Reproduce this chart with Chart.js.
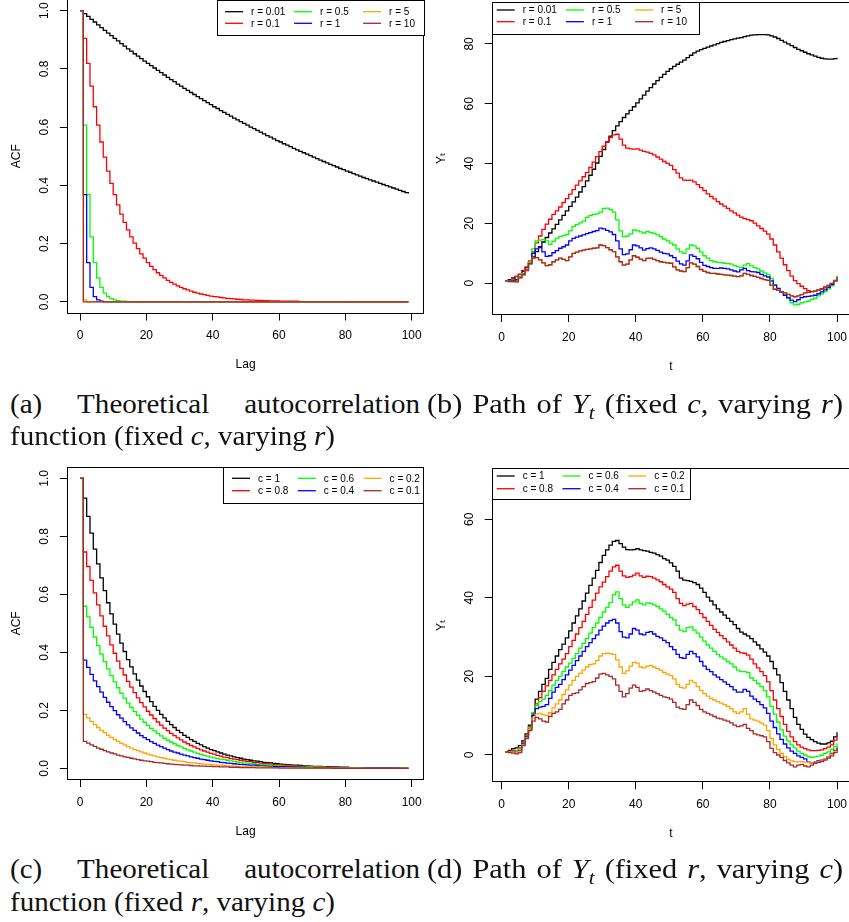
<!DOCTYPE html>
<html>
<head>
<meta charset="utf-8">
<script src="https://cdn.jsdelivr.net/npm/chart.js@4.4.1/dist/chart.umd.min.js"></script>
<style>
html, body { margin: 0; padding: 0; background: #fff; }
body { width: 849px; height: 922px; overflow: hidden; position: relative; }
canvas { position: absolute; }
.cap { position: absolute; font-family: 'Liberation Serif', 'Times New Roman', serif; font-size: 28px; line-height: 32px; white-space: nowrap; color: #111; transform-origin: 0 50%; }
.cap sub { font-size: 0.7em; vertical-align: -0.3em; line-height: 0; }
.just { display: flex; justify-content: space-between; }
</style>
</head>
<body>
<canvas id="chartA"></canvas>
<canvas id="chartB"></canvas>
<canvas id="chartC"></canvas>
<canvas id="chartD"></canvas>

<div class="cap just" style="left:10px;top:388px"><span>(a)</span><span>Theoretical</span><span>autocorrelation</span></div>
<div class="cap" id="capA2" style="left:10px;top:420px">function (fixed <i>c</i>, varying <i>r</i>)</div>
<div class="cap wide" style="left:427px;top:388px">(b) Path of <i>Y</i><sub><i>t</i></sub> (fixed <i>c</i>, varying <i>r</i>)</div>
<div class="cap just" style="left:10px;top:853px"><span>(c)</span><span>Theoretical</span><span>autocorrelation</span></div>
<div class="cap" style="left:10px;top:886px">function (fixed <i>r</i>, varying <i>c</i>)</div>
<div class="cap wide" style="left:427px;top:853px">(d) Path of <i>Y</i><sub><i>t</i></sub> (fixed <i>r</i>, varying <i>c</i>)</div>

<script>
// ---- axes / labels ----
const lags = [0,1,2,3,4,5,6,7,8,9,10,11,12,13,14,15,16,17,18,19,20,21,22,23,24,25,26,27,28,29,30,31,32,33,34,35,36,37,38,39,40,41,42,43,44,45,46,47,48,49,50,51,52,53,54,55,56,57,58,59,60,61,62,63,64,65,66,67,68,69,70,71,72,73,74,75,76,77,78,79,80,81,82,83,84,85,86,87,88,89,90,91,92,93,94,95,96,97,98,99];
const times = [1,2,3,4,5,6,7,8,9,10,11,12,13,14,15,16,17,18,19,20,21,22,23,24,25,26,27,28,29,30,31,32,33,34,35,36,37,38,39,40,41,42,43,44,45,46,47,48,49,50,51,52,53,54,55,56,57,58,59,60,61,62,63,64,65,66,67,68,69,70,71,72,73,74,75,76,77,78,79,80,81,82,83,84,85,86,87,88,89,90,91,92,93,94,95,96,97,98,99,100];

const xTicks = [0, 20, 40, 60, 80, 100];
const xTickLabels = ['0', '20', '40', '60', '80', '100'];
const acfTicks = [0, 0.2, 0.4, 0.6, 0.8, 1.0];
const acfTickLabels = ['0.0', '0.2', '0.4', '0.6', '0.8', '1.0'];
const pathBTicks = [0, 20, 40, 60, 80];
const pathBTickLabels = ['0', '20', '40', '60', '80'];
const pathDTicks = [0, 20, 40, 60];
const pathDTickLabels = ['0', '20', '40', '60'];

const rLabels = ['r = 0.01', 'r = 0.1', 'r = 0.5', 'r = 1', 'r = 5', 'r = 10'];
const cLabels = ['c = 1', 'c = 0.8', 'c = 0.6', 'c = 0.4', 'c = 0.2', 'c = 0.1'];
const seriesColors = ['#000000', '#FF0000', '#00FF00', '#0000FF', '#FFA500', '#A52A2A'];

// ---- (a) ACF, fixed c, varying r ----
const acfR001 = [
1.000,.990,.980,.970,.961,.951,.942,.932,.923,.914,
.905,.896,.887,.878,.869,.861,.852,.844,.835,.827,
.819,.811,.803,.795,.787,.779,.771,.763,.756,.748,
.741,.733,.726,.719,.712,.705,.698,.691,.684,.677,
.670,.664,.657,.651,.644,.638,.631,.625,.619,.613,
.607,.600,.595,.589,.583,.577,.571,.566,.560,.554,
.549,.543,.538,.533,.527,.522,.517,.512,.507,.502,
.497,.492,.487,.482,.477,.472,.468,.463,.458,.454,
.449,.445,.440,.436,.432,.427,.423,.419,.415,.411,
.407,.403,.399,.395,.391,.387,.383,.379,.375,.372];
const acfR01 = [
1.000,.905,.819,.741,.670,.607,.549,.497,.449,.407,
.368,.333,.301,.273,.247,.223,.202,.183,.165,.150,
.135,.122,.111,.100,.091,.082,.074,.067,.061,.055,
.050,.045,.041,.037,.033,.030,.027,.025,.022,.020,
.018,.017,.015,.014,.012,.011,.010,.009,.008,.007,
.007,.006,.006,.005,.005,.004,.004,.003,.003,.003,
.002,.002,.002,.002,.002,.002,.001,.001,.001,.001,
.001,.001,.001,.001,.001,.001,.001,.001,0,0,
0,0,0,0,0,0,0,0,0,0,
0,0,0,0,0,0,0,0,0,0];
const acfR05 = [
1.000,.607,.368,.223,.135,.082,.050,.030,.018,.011,
.007,.004,.002,.002,.001,.001,0,0,0,0,
0,0,0,0,0,0,0,0,0,0,
0,0,0,0,0,0,0,0,0,0,
0,0,0,0,0,0,0,0,0,0,
0,0,0,0,0,0,0,0,0,0,
0,0,0,0,0,0,0,0,0,0,
0,0,0,0,0,0,0,0,0,0,
0,0,0,0,0,0,0,0,0,0,
0,0,0,0,0,0,0,0,0,0];
const acfR1 = [
1.000,.368,.135,.050,.018,.007,.002,.001,0,0,
0,0,0,0,0,0,0,0,0,0,
0,0,0,0,0,0,0,0,0,0,
0,0,0,0,0,0,0,0,0,0,
0,0,0,0,0,0,0,0,0,0,
0,0,0,0,0,0,0,0,0,0,
0,0,0,0,0,0,0,0,0,0,
0,0,0,0,0,0,0,0,0,0,
0,0,0,0,0,0,0,0,0,0,
0,0,0,0,0,0,0,0,0,0];
const acfR5 = [
1.000,.007,0,0,0,0,0,0,0,0,
0,0,0,0,0,0,0,0,0,0,
0,0,0,0,0,0,0,0,0,0,
0,0,0,0,0,0,0,0,0,0,
0,0,0,0,0,0,0,0,0,0,
0,0,0,0,0,0,0,0,0,0,
0,0,0,0,0,0,0,0,0,0,
0,0,0,0,0,0,0,0,0,0,
0,0,0,0,0,0,0,0,0,0,
0,0,0,0,0,0,0,0,0,0];
const acfR10 = [
1.000,0,0,0,0,0,0,0,0,0,
0,0,0,0,0,0,0,0,0,0,
0,0,0,0,0,0,0,0,0,0,
0,0,0,0,0,0,0,0,0,0,
0,0,0,0,0,0,0,0,0,0,
0,0,0,0,0,0,0,0,0,0,
0,0,0,0,0,0,0,0,0,0,
0,0,0,0,0,0,0,0,0,0,
0,0,0,0,0,0,0,0,0,0,
0,0,0,0,0,0,0,0,0,0];

// ---- (b) paths, fixed c, varying r ----
const pathR001 = [
0.8,1.2,1.8,2.3,3.0,4.0,5.2,6.8,8.8,10.6,
12.2,13.8,15.3,16.8,18.2,19.7,21.2,22.7,24.2,25.7,
27.2,28.8,30.5,32.3,34.2,36.1,38.1,40.2,42.4,44.7,
47.2,49.2,51.0,52.6,54.0,55.4,56.6,57.8,59.0,60.3,
61.6,62.9,64.2,65.4,66.6,67.7,68.8,69.8,70.8,71.7,
72.5,73.2,73.9,74.6,75.4,76.2,77.0,77.6,78.1,78.5,
78.9,79.3,79.7,80.1,80.5,80.8,81.1,81.4,81.7,81.9,
82.1,82.4,82.7,82.9,83.0,83.1,83.1,83.1,83.0,82.7,
82.3,81.8,81.2,80.6,80.0,79.4,78.8,78.2,77.7,77.2,
76.7,76.3,75.9,75.5,75.2,75.0,74.9,74.9,75.1,75.4];
const pathR01 = [
0.8,1.0,1.6,2.2,3.0,4.3,5.5,7.5,10.5,13.5,
15.8,18.0,19.8,21.4,23.0,24.2,25.5,27.0,28.3,29.8,
31.3,32.8,34.2,35.6,37.0,38.7,40.5,42.3,44.0,45.8,
47.3,48.7,49.6,49.8,48.2,46.2,45.2,44.9,44.8,44.9,
44.5,44.1,43.8,43.4,42.9,42.2,41.5,40.7,40.1,39.4,
38.0,36.8,35.2,34.5,34.4,34.5,33.9,33.0,32.0,31.0,
29.9,29.0,28.2,27.3,26.5,25.8,25.0,24.2,23.5,22.8,
22.1,21.6,21.3,20.9,20.1,19.2,18.3,17.4,16.4,14.8,
12.8,10.5,8.4,6.2,4.2,2.4,0.9,-0.1,-1.0,-1.8,
-2.5,-2.8,-2.6,-2.3,-2.0,-1.5,-0.9,-0.3,0.7,1.7];
const pathR05 = [
0.8,0.9,1.2,1.0,2.2,3.3,4.5,7.0,11.5,14.2,
14.4,14.6,14.2,13.0,14.0,15.0,15.6,15.9,16.3,17.5,
19.0,19.6,20.2,20.8,22.0,22.6,23.0,23.2,23.8,25.0,
25.1,24.6,23.8,21.2,17.5,15.6,15.8,16.5,17.8,17.6,
17.2,16.8,17.3,17.0,16.7,16.2,15.6,14.8,14.2,13.4,
12.8,11.5,10.5,10.0,11.5,12.8,12.5,11.7,10.5,9.2,
8.4,7.6,7.2,7.0,6.9,6.7,6.6,6.4,5.9,5.5,
5.2,6.1,6.6,5.8,5.2,4.8,4.1,3.5,3.0,1.6,
-0.5,-1.8,-2.8,-3.9,-5.0,-6.5,-7.2,-7.0,-6.5,-6.2,
-6.0,-5.4,-5.0,-4.2,-3.5,-2.8,-1.9,-0.9,0.8,2.6];
const pathR1 = [
0.8,0.8,1.0,1.2,2.0,3.0,4.2,6.5,10.0,11.5,
11.9,10.5,9.0,9.2,10.2,10.9,11.7,12.2,12.8,14.2,
15.0,15.4,15.8,16.2,16.6,16.9,17.3,17.6,18.4,18.2,
17.7,17.2,16.3,14.2,11.5,9.6,9.8,11.2,12.8,12.5,
11.8,11.1,11.6,11.8,11.5,11.0,10.4,10.0,9.8,9.2,
8.6,7.4,6.5,6.1,7.5,9.5,9.0,8.2,7.0,6.0,
5.6,5.2,5.0,5.0,5.1,5.0,4.8,4.5,4.1,3.8,
4.5,5.0,4.2,3.9,3.8,3.6,3.0,2.5,2.1,0.8,
-0.6,-1.7,-3.0,-4.0,-4.8,-5.6,-6.1,-5.5,-4.8,-4.5,
-4.4,-4.2,-4.0,-3.5,-2.9,-2.2,-1.4,-0.4,1.0,2.2];
const pathR5 = [
0.8,0.6,0.6,0.5,1.8,2.8,4.5,6.6,8.4,8.6,
7.8,6.8,5.9,6.2,7.2,7.8,8.4,8.0,7.6,8.8,
10.0,10.4,10.8,11.1,11.3,11.5,11.7,11.8,12.8,12.6,
11.9,11.2,10.6,8.8,7.2,6.1,6.4,7.8,9.2,8.7,
8.1,7.6,8.3,8.4,8.0,7.6,7.2,7.0,6.8,6.7,
5.5,4.5,4.1,3.9,5.2,6.8,6.4,5.6,4.6,4.0,
3.6,3.3,3.3,3.1,3.0,2.8,2.7,2.6,2.4,2.2,
2.5,3.3,3.0,2.6,2.3,2.0,1.6,1.2,1.0,-0.6,
-2.0,-2.4,-2.8,-3.2,-3.7,-4.2,-4.5,-4.2,-3.8,-3.2,
-3.0,-2.8,-2.6,-2.2,-1.8,-1.2,-0.7,0.0,0.8,1.7];
const pathR10 = [
0.8,0.6,0.6,0.5,1.8,2.8,4.5,6.6,8.4,8.6,
7.8,6.8,5.9,6.2,7.2,7.8,8.4,8.0,7.6,8.8,
10.0,10.4,10.8,11.1,11.3,11.5,11.7,11.8,12.8,12.6,
11.9,11.2,10.6,8.8,7.2,6.1,6.4,7.8,9.2,8.7,
8.1,7.6,8.3,8.4,8.0,7.6,7.2,7.0,6.8,6.7,
5.5,4.5,4.1,3.9,5.2,6.8,6.4,5.6,4.6,4.0,
3.6,3.3,3.3,3.1,3.0,2.8,2.7,2.6,2.4,2.2,
2.5,3.3,3.0,2.6,2.3,2.0,1.6,1.2,1.0,-0.6,
-2.0,-2.4,-2.8,-3.2,-3.7,-4.2,-4.5,-4.2,-3.8,-3.2,
-3.0,-2.8,-2.6,-2.2,-1.8,-1.2,-0.7,0.0,0.8,1.7];

// ---- (c) ACF, fixed r, varying c ----
const acfC1 = [
1.000,.932,.869,.811,.756,.705,.657,.613,.571,.533,
.497,.463,.432,.403,.375,.350,.326,.304,.284,.265,
.247,.230,.214,.200,.186,.174,.162,.151,.141,.131,
.123,.114,.107,.099,.093,.086,.081,.075,.070,.065,
.061,.057,.053,.049,.046,.043,.040,.037,.035,.032,
.030,.028,.026,.025,.023,.021,.020,.019,.017,.016,
.015,.014,.013,.012,.011,.011,.010,.009,.009,.008,
.007,.007,.007,.006,.006,.005,.005,.005,.004,.004,
.004,.003,.003,.003,.003,.003,.002,.002,.002,.002,
.002,.002,.002,.002,.001,.001,.001,.001,.001,.001];
const acfC08 = [
1.000,.746,.696,.648,.605,.564,.526,.490,.457,.426,
.397,.370,.345,.322,.300,.280,.261,.243,.227,.212,
.197,.184,.172,.160,.149,.139,.130,.121,.113,.105,
.098,.091,.085,.079,.074,.069,.064,.060,.056,.052,
.049,.045,.042,.039,.037,.034,.032,.030,.028,.026,
.024,.023,.021,.020,.018,.017,.016,.015,.014,.013,
.012,.011,.010,.010,.009,.008,.008,.007,.007,.006,
.006,.006,.005,.005,.004,.004,.004,.004,.003,.003,
.003,.003,.003,.002,.002,.002,.002,.002,.002,.002,
.001,.001,.001,.001,.001,.001,.001,.001,.001,.001];
const acfC06 = [
1.000,.559,.522,.486,.453,.423,.394,.368,.343,.320,
.298,.278,.259,.242,.225,.210,.196,.183,.170,.159,
.148,.138,.129,.120,.112,.104,.097,.091,.085,.079,
.074,.069,.064,.060,.056,.052,.048,.045,.042,.039,
.036,.034,.032,.030,.028,.026,.024,.022,.021,.019,
.018,.017,.016,.015,.014,.013,.012,.011,.010,.010,
.009,.008,.008,.007,.007,.006,.006,.006,.005,.005,
.004,.004,.004,.004,.003,.003,.003,.003,.003,.002,
.002,.002,.002,.002,.002,.002,.001,.001,.001,.001,
.001,.001,.001,.001,.001,.001,.001,.001,.001,.001];
const acfC04 = [
1.000,.373,.348,.324,.302,.282,.263,.245,.228,.213,
.199,.185,.173,.161,.150,.140,.131,.122,.113,.106,
.099,.092,.086,.080,.075,.070,.065,.060,.056,.053,
.049,.046,.043,.040,.037,.035,.032,.030,.028,.026,
.024,.023,.021,.020,.018,.017,.016,.015,.014,.013,
.012,.011,.011,.010,.009,.009,.008,.007,.007,.006,
.006,.006,.005,.005,.005,.004,.004,.004,.003,.003,
.003,.003,.003,.002,.002,.002,.002,.002,.002,.002,
.001,.001,.001,.001,.001,.001,.001,.001,.001,.001,
.001,.001,.001,.001,.001,.001,0,0,0,0];
const acfC02 = [
1.000,.186,.174,.162,.151,.141,.131,.123,.114,.107,
.099,.093,.086,.081,.075,.070,.065,.061,.057,.053,
.049,.046,.043,.040,.037,.035,.032,.030,.028,.026,
.025,.023,.021,.020,.019,.017,.016,.015,.014,.013,
.012,.011,.011,.010,.009,.009,.008,.007,.007,.006,
.006,.006,.005,.005,.005,.004,.004,.004,.003,.003,
.003,.003,.003,.002,.002,.002,.002,.002,.002,.002,
.001,.001,.001,.001,.001,.001,.001,.001,.001,.001,
.001,.001,.001,.001,.001,0,0,0,0,0,
0,0,0,0,0,0,0,0,0,0];
const acfC01 = [
1.000,.093,.087,.081,.076,.070,.066,.061,.057,.053,
.050,.046,.043,.040,.038,.035,.033,.030,.028,.026,
.025,.023,.021,.020,.019,.017,.016,.015,.014,.013,
.012,.011,.011,.010,.009,.009,.008,.008,.007,.007,
.006,.006,.005,.005,.005,.004,.004,.004,.003,.003,
.003,.003,.003,.002,.002,.002,.002,.002,.002,.002,
.001,.001,.001,.001,.001,.001,.001,.001,.001,.001,
.001,.001,.001,.001,.001,.001,0,0,0,0,
0,0,0,0,0,0,0,0,0,0,
0,0,0,0,0,0,0,0,0,0];

// ---- (d) paths, fixed r, varying c ----
const pathC1 = [
0.8,1.2,1.6,1.8,2.4,3.6,5.4,7.6,10.4,14.2,
16.2,18.0,19.5,21.8,23.6,25.2,26.8,28.2,29.8,31.6,
33.6,35.4,37.2,39.2,41.2,43.2,45.0,47.0,49.0,50.8,
52.2,53.4,54.4,54.6,53.8,52.9,52.3,52.2,52.3,52.5,
52.2,52.0,51.9,51.6,51.4,51.0,50.6,50.0,49.6,48.9,
48.0,46.8,45.0,44.5,44.4,44.2,43.9,43.4,42.5,41.4,
40.2,39.2,38.2,37.2,36.4,35.6,34.8,34.0,33.2,32.2,
31.3,30.8,30.3,29.6,28.8,28.0,27.0,26.2,25.2,23.8,
22.0,20.4,18.4,16.2,14.0,11.8,9.6,7.8,6.5,5.3,
4.5,3.9,3.4,3.0,2.8,2.8,3.1,3.5,4.6,5.8];
const pathC08 = [
0.8,1.0,1.2,1.0,1.8,3.2,5.0,7.2,10.6,13.0,
14.6,16.2,17.6,19.0,20.4,21.8,23.2,24.4,25.8,27.6,
29.2,30.8,32.4,34.0,35.8,37.6,39.4,41.2,42.8,44.0,
45.4,46.8,47.9,48.3,46.8,45.6,45.2,45.4,45.8,46.3,
45.6,45.2,45.5,45.4,45.0,44.6,44.1,43.4,42.8,42.2,
41.4,39.8,38.6,38.0,38.4,38.6,37.8,37.0,36.0,35.0,
34.0,33.0,32.0,31.2,30.4,29.6,28.8,28.0,27.2,26.4,
26.0,25.9,25.4,24.4,23.2,22.2,21.2,20.2,18.6,16.4,
14.0,11.8,9.8,7.8,6.0,4.6,3.4,2.6,2.0,1.6,
1.3,1.1,1.1,1.2,1.3,1.6,2.0,2.6,3.8,4.5];
const pathC06 = [
0.8,0.8,1.0,0.8,1.6,3.0,4.8,7.0,10.8,12.6,
13.6,14.2,15.2,16.4,17.8,19.0,20.0,21.2,22.4,23.4,
24.6,25.8,27.2,28.4,29.6,31.0,32.4,33.6,35.0,36.4,
37.6,38.8,40.8,41.5,39.8,38.2,37.6,38.2,39.0,39.5,
38.6,38.2,38.7,38.6,38.2,37.8,37.2,36.6,35.8,35.0,
34.4,33.0,31.8,31.4,32.4,32.6,31.8,31.0,30.0,29.0,
28.0,27.2,26.4,25.6,25.0,24.4,23.8,23.2,22.4,21.6,
21.2,21.2,21.0,19.6,19.0,18.2,17.4,16.4,14.8,12.4,
10.4,8.4,6.4,4.8,3.6,2.6,1.8,1.0,0.4,0.0,
-0.4,-0.6,-0.5,-0.3,0.0,0.4,0.8,1.4,2.2,3.0];
const pathC04 = [
0.8,0.8,0.9,0.6,1.2,2.8,4.6,6.6,10.0,11.8,
12.2,12.4,12.8,14.4,16.0,17.2,18.0,19.2,20.4,21.6,
22.8,24.0,25.2,26.4,27.6,28.6,29.6,30.6,31.8,32.8,
33.6,34.2,34.5,33.6,31.4,30.0,29.8,30.8,32.2,31.8,
30.8,30.6,31.2,31.4,30.8,30.2,29.8,29.2,28.6,27.6,
26.8,25.6,24.8,24.6,25.6,26.4,25.8,25.0,23.8,22.6,
21.8,21.2,20.4,19.8,19.2,18.6,18.0,17.4,16.6,16.0,
16.0,16.7,16.2,15.0,14.2,13.6,12.8,12.0,10.6,8.6,
7.0,5.4,4.0,2.8,1.8,1.0,0.4,-0.2,-0.6,-1.0,
-1.8,-2.0,-1.8,-1.5,-1.3,-1.0,-0.4,0.4,1.2,2.0];
const pathC02 = [
0.8,0.8,0.8,0.6,1.0,2.6,4.4,6.6,9.4,10.4,
10.6,10.2,10.0,10.8,12.0,13.0,14.0,15.4,16.6,17.8,
19.0,20.0,20.8,21.6,22.4,23.0,23.2,24.0,25.2,25.8,
25.9,25.8,25.6,24.2,22.4,20.8,21.4,22.6,23.6,23.4,
22.4,22.2,22.6,22.8,22.4,22.0,21.6,21.0,20.6,20.2,
19.4,18.0,17.2,17.0,18.0,19.0,18.4,17.4,16.4,15.6,
15.0,14.4,14.0,13.6,13.2,12.8,12.4,11.8,11.0,10.6,
11.0,11.8,10.4,9.2,8.9,8.6,8.1,7.6,6.2,4.2,
2.6,1.4,0.4,-0.4,-1.1,-1.5,-1.7,-1.7,-1.7,-1.8,
-1.9,-2.0,-1.9,-1.7,-1.5,-1.0,-0.5,0.2,1.0,1.8];
const pathC01 = [
0.8,0.6,0.5,0.3,0.6,2.4,4.2,6.2,8.6,9.6,
9.2,8.6,8.4,9.8,10.6,11.0,11.6,13.0,14.0,15.2,
15.6,15.8,16.6,17.4,18.2,18.4,18.7,19.6,20.6,20.8,
20.4,20.0,19.4,17.8,16.2,14.8,15.6,17.0,17.8,17.2,
16.2,16.4,16.8,16.4,16.0,15.6,15.2,14.8,14.6,14.2,
13.4,12.2,11.8,11.6,12.8,14.0,13.4,12.6,11.6,11.0,
10.6,10.2,9.8,9.4,9.2,8.9,8.6,8.2,7.6,7.2,
7.4,7.8,6.8,6.2,5.4,5.1,4.9,4.6,3.4,1.7,
0.6,0.0,-0.6,-1.4,-2.0,-2.6,-3.0,-2.6,-2.4,-2.8,
-3.0,-2.6,-2.1,-1.9,-1.7,-1.3,-0.8,-0.2,0.6,1.8];

const FONT = "'Liberation Sans', Arial, 'DejaVu Sans', sans-serif";

function textWidth(text, size) {
    const ctx = document.createElement('canvas').getContext('2d');
    ctx.font = size + 'px ' + FONT;
    return ctx.measureText(text).width;
}

// box around the plot region + R style legend
const rBox = {
    id: 'rbox',
    afterDraw(chart, args, opts) {
        const ctx = chart.ctx;
        const a = chart.chartArea;
        ctx.save();
        ctx.strokeStyle = '#000';
        ctx.lineWidth = 1;
        const L = Math.round(a.left) + 0.5, T = Math.round(a.top) + 0.5;
        const R = Math.round(a.right) - 0.5, B = Math.round(a.bottom) - 0.5;
        ctx.strokeRect(L, T, R - L, B - T);

        const lg = opts.legend;
        const bx = lg.anchor === 'right' ? a.right - lg.w : a.left;
        const by = a.top + lg.dy;
        const x0 = Math.round(bx) + 0.5, y0 = Math.round(by) + 0.5;
        ctx.fillStyle = '#fff';
        ctx.fillRect(x0, y0, Math.round(lg.w) - 1, Math.round(lg.h));
        ctx.strokeRect(x0, y0, Math.round(lg.w) - 1, Math.round(lg.h));
        ctx.font = '10px ' + FONT;
        ctx.textBaseline = 'middle';
        ctx.textAlign = 'left';
        opts.labels.forEach((txt, i) => {
            const col = Math.floor(i / 2), row = i % 2;
            const lx = bx + lg.x0 + col * lg.pitch;
            const ly = by + lg.rows[row];
            ctx.strokeStyle = seriesColors[i];
            ctx.lineWidth = 1.3;
            ctx.beginPath();
            ctx.moveTo(lx, ly);
            ctx.lineTo(lx + 18, ly);
            ctx.stroke();
            ctx.fillStyle = '#000';
            ctx.fillText(txt, lx + 26, ly + 0.5);
        });
        ctx.restore();
    }
};

function buildPanel(cfg) {
    const cv = document.getElementById(cfg.id);
    cv.width = cfg.canvas.w;
    cv.height = cfg.canvas.h;
    cv.style.left = cfg.canvas.left + 'px';
    cv.style.top = cfg.canvas.top + 'px';
    const b = cfg.box;
    const xAxisH = 60;
    const yAxisW = b.l - cfg.canvas.left;
    const widest = Math.max(...cfg.yLabels.map(t => textWidth(t, 12)));

    const datasets = cfg.series.map((ys, i) => ({
        label: cfg.labels[i],
        data: cfg.xs.map((x, j) => ({ x: x, y: ys[j] })),
        borderColor: seriesColors[i],
        borderWidth: 1.3,
        pointRadius: 0,
        stepped: true,
        fill: false,
        order: -i
    }));

    return new Chart(cv, {
        type: 'line',
        data: { datasets: datasets },
        options: {
            responsive: false,
            animation: false,
            devicePixelRatio: 1,
            events: [],
            layout: {
                padding: {
                    left: 0,
                    top: b.t - cfg.canvas.top,
                    right: cfg.canvas.left + cfg.canvas.w - b.r,
                    bottom: cfg.canvas.top + cfg.canvas.h - b.b - xAxisH
                }
            },
            plugins: {
                legend: { display: false },
                tooltip: { enabled: false },
                rbox: { legend: cfg.legend, labels: cfg.labels }
            },
            scales: {
                x: {
                    type: 'linear',
                    min: cfg.xMin,
                    max: cfg.xMax,
                    afterBuildTicks: s => { s.ticks = xTicks.map(v => ({ value: v })); },
                    afterFit: s => { s.height = xAxisH; },
                    grid: { display: true, drawOnChartArea: false, drawTicks: true, tickLength: 7, tickColor: '#000', color: '#000', lineWidth: 1 },
                    border: { display: false },
                    ticks: {
                        autoSkip: false, minRotation: 0, maxRotation: 0, padding: 8.3,
                        color: '#000', font: { family: FONT, size: 12 },
                        callback: v => xTickLabels[xTicks.indexOf(v)]
                    },
                    title: { display: true, text: cfg.xTitle, color: '#000', font: { family: FONT, size: 12 }, padding: { top: 0, bottom: 1.3 } }
                },
                y: {
                    type: 'linear',
                    min: cfg.yMin,
                    max: cfg.yMax,
                    afterBuildTicks: s => { s.ticks = cfg.yTicks.map(v => ({ value: v })); },
                    afterFit: s => { s.width = yAxisW; },
                    grid: { display: true, drawOnChartArea: false, drawTicks: true, tickLength: 7, tickColor: '#000', color: '#000', lineWidth: 1 },
                    border: { display: false },
                    ticks: {
                        autoSkip: false, minRotation: 90, maxRotation: 90, crossAlign: 'center',
                        padding: 15 - widest / 2,
                        color: '#000', font: { family: FONT, size: 12 },
                        callback: v => cfg.yLabels[cfg.yTicks.indexOf(v)]
                    },
                    title: { display: true, text: cfg.yTitle, color: '#000', font: { family: FONT, size: 12 }, padding: { top: 9.5, bottom: 0 } }
                }
            }
        },
        plugins: [rBox]
    });
}

buildPanel({
    id: 'chartA',
    canvas: { left: 0, top: -20, w: 440, h: 396 },
    box: { l: 66.9, t: -1, r: 424.3, b: 313.5 },
    xs: lags, series: [acfR001, acfR01, acfR05, acfR1, acfR5, acfR10], labels: rLabels,
    xMin: -3.96, xMax: 103.8, yMin: -0.04, yMax: 1.04,
    yTicks: acfTicks, yLabels: acfTickLabels, xTitle: 'Lag', yTitle: 'ACF',
    legend: { anchor: 'right', dy: 1, w: 207.5, h: 35, x0: 8.3, pitch: 69, rows: [11.7, 23.3] }
});

buildPanel({
    id: 'chartB',
    canvas: { left: 425, top: -18, w: 440, h: 396 },
    box: { l: 491.7, t: 1.7, r: 850.3, b: 315 },
    xs: times, series: [pathR001, pathR01, pathR05, pathR1, pathR5, pathR10], labels: rLabels,
    xMin: -2.96, xMax: 103.96, yMin: -10.6, yMax: 94.1,
    yTicks: pathBTicks, yLabels: pathBTickLabels, xTitle: 't', yTitle: 'Y\u209C',
    legend: { anchor: 'left', dy: 0, w: 208.3, h: 31.6, x0: 5, pitch: 69.2, rows: [8.3, 20] }
});

buildPanel({
    id: 'chartC',
    canvas: { left: 0, top: 447, w: 440, h: 396 },
    box: { l: 66.9, t: 466.7, r: 424.3, b: 780 },
    xs: lags, series: [acfC1, acfC08, acfC06, acfC04, acfC02, acfC01], labels: cLabels,
    xMin: -3.96, xMax: 103.8, yMin: -0.04, yMax: 1.04,
    yTicks: acfTicks, yLabels: acfTickLabels, xTitle: 'Lag', yTitle: 'ACF',
    legend: { anchor: 'right', dy: 0, w: 201.3, h: 35.6, x0: 9, pitch: 65.8, rows: [11.6, 24] }
});

buildPanel({
    id: 'chartD',
    canvas: { left: 425, top: 448, w: 440, h: 396 },
    box: { l: 491.7, t: 468.3, r: 850.3, b: 782.3 },
    xs: times, series: [pathC1, pathC08, pathC06, pathC04, pathC02, pathC01], labels: cLabels,
    xMin: -2.96, xMax: 103.96, yMin: -6.95, yMax: 72.98,
    yTicks: pathDTicks, yLabels: pathDTickLabels, xTitle: 't', yTitle: 'Y\u209C',
    legend: { anchor: 'left', dy: 0, w: 199.3, h: 30.7, x0: 5, pitch: 65.8, rows: [7.7, 20.4] }
});

// fit the serif captions to the width of the original typesetting
const capA2 = document.getElementById('capA2');
const stretch = 325 / capA2.getBoundingClientRect().width;
document.querySelectorAll('.cap').forEach(el => {
    let s = stretch;
    if (el.classList.contains('just')) el.style.width = (410 / s) + 'px';
    if (el.classList.contains('wide')) {
        const w = el.getBoundingClientRect().width;
        s = (stretch + 416 / w) / 2;
        el.style.wordSpacing = ((416 / s - w) / 7) + 'px';
    }
    el.style.transform = 'scaleX(' + s + ')';
});
</script>
</body>
</html>
